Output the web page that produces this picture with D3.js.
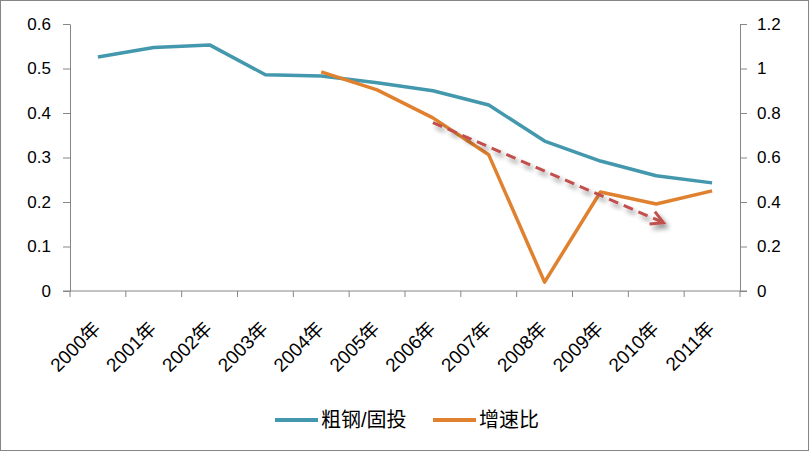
<!DOCTYPE html>
<html>
<head>
<meta charset="utf-8">
<script src="https://cdn.jsdelivr.net/npm/d3@7"></script>
<style>
  body { margin: 0; background: #fff; }
  svg { display: block; font-family: "Liberation Sans", "Noto Sans CJK SC", sans-serif; }
</style>
</head>
<body>
<div id="chart"></div>
<script>
var years = ["2000年","2001年","2002年","2003年","2004年","2005年","2006年","2007年","2008年","2009年","2010年","2011年"]
var steel_ratio = [0.526, 0.547, 0.553, 0.486, 0.483, 0.468, 0.450, 0.418, 0.337, 0.292, 0.259, 0.243]
var growth_ratio = [null, null, null, null, 0.985, 0.904, 0.778, 0.612, 0.040, 0.445, 0.391, 0.450]
var left_ticks = [0, 0.1, 0.2, 0.3, 0.4, 0.5, 0.6]
var right_ticks = [0, 0.2, 0.4, 0.6, 0.8, 1, 1.2]
var series_names = ["粗钢/固投", "增速比"]
// trend arrow, in (category index, right-axis value)
var trend_arrow = [[6.0, 0.757], [10.13, 0.307]]

var W = 809, H = 451
var margin = {top: 24, right: 69, bottom: 160, left: 70}
var width = W - margin.left - margin.right,
    height = 291 - margin.top

var blue = "#4398ae", orange = "#e0812f", axis_col = "#868686"

var svg = d3.select("#chart").append("svg")
  .attr("width", W).attr("height", H)

svg.append("rect")
  .attr("x", 0.5).attr("y", 0.5)
  .attr("width", W - 1).attr("height", H - 1)
  .attr("fill", "#fff").attr("stroke", axis_col).attr("stroke-width", 1)

var g = svg.append("g")
  .attr("transform", "translate(" + margin.left + "," + margin.top + ")")

var x = d3.scaleBand().domain(years).range([0, width])
var xi = d3.scaleLinear().domain([0, years.length]).range([0, width])
var y = d3.scaleLinear().domain([0, 0.6]).range([height, 0])
var y2 = d3.scaleLinear().domain([0, 1.2]).range([height, 0])

function style_axis(sel){
  sel.select(".domain").attr("stroke", axis_col)
  sel.selectAll(".tick line").attr("stroke", axis_col)
  sel.selectAll(".tick text").attr("fill", "#000").style("font-size", "17px")
}

// left axis
var ya = g.append("g")
  .call(d3.axisLeft(y).tickValues(left_ticks).tickSize(7).tickSizeOuter(0).tickPadding(12)
    .tickFormat(function(d){ return d3.format("")(d) }))
style_axis(ya)

// right axis
var ya2 = g.append("g")
  .attr("transform", "translate(" + width + ",0)")
  .call(d3.axisRight(y2).tickValues(right_ticks).tickSize(7).tickSizeOuter(0).tickPadding(10)
    .tickFormat(function(d){ return d3.format("")(d) }))
style_axis(ya2)

// bottom axis with ticks on category boundaries
var xa = g.append("g")
  .attr("transform", "translate(0," + height + ")")
xa.append("line")
  .attr("x1", -7).attr("x2", width + 7)
  .attr("stroke", axis_col)
xa.selectAll(".xt")
  .data(d3.range(years.length + 1))
  .enter().append("line")
  .attr("x1", function(d){ return xi(d) }).attr("x2", function(d){ return xi(d) })
  .attr("y1", 0).attr("y2", 6)
  .attr("stroke", axis_col)
xa.selectAll(".xl")
  .data(years)
  .enter().append("text")
  .attr("transform", function(d){
    return "translate(" + (x(d) + x.bandwidth() / 2 - 1) + ",34) rotate(-45)"
  })
  .attr("text-anchor", "end")
  .attr("dy", "0.35em")
  .style("font-size", "19px")
  .text(function(d){ return d })

// lines
var cx = function(i){ return x(years[i]) + x.bandwidth() / 2 }

var line1 = d3.line()
  .x(function(d, i){ return cx(i) })
  .y(function(d){ return y(d) })

var line2 = d3.line()
  .defined(function(d){ return d != null })
  .x(function(d, i){ return cx(i) })
  .y(function(d){ return y2(d) })

g.append("path")
  .datum(steel_ratio)
  .attr("d", line1)
  .attr("fill", "none").attr("stroke", blue)
  .attr("stroke-width", 3.5).attr("stroke-linejoin", "round")

g.append("path")
  .datum(growth_ratio)
  .attr("d", line2)
  .attr("fill", "none").attr("stroke", orange)
  .attr("stroke-width", 3.5).attr("stroke-linejoin", "round")

// dashed trend arrow with soft shadow
var defs = svg.append("defs")
var f = defs.append("filter").attr("id", "shadow")
  .attr("x", "-20%").attr("y", "-20%").attr("width", "140%").attr("height", "160%")
f.append("feGaussianBlur").attr("in", "SourceAlpha").attr("stdDeviation", 2.5).attr("result", "b")
f.append("feOffset").attr("in", "b").attr("dx", 3).attr("dy", 4).attr("result", "o")
f.append("feComponentTransfer").attr("in", "o").attr("result", "o2")
  .append("feFuncA").attr("type", "linear").attr("slope", 0.45)
var fm = f.append("feMerge")
fm.append("feMergeNode").attr("in", "o2")
fm.append("feMergeNode").attr("in", "SourceGraphic")

var ax = function(d){ return xi(d[0]) + x.bandwidth() / 2 - xi(0) }
var p0 = [ax(trend_arrow[0]), y2(trend_arrow[0][1])],
    p1 = [ax(trend_arrow[1]), y2(trend_arrow[1][1])]
var ang = Math.atan2(p1[1] - p0[1], p1[0] - p0[0])
var hl = 14, ha = 0.5
var arrow = g.append("g").attr("filter", "url(#shadow)")
arrow.append("line")
  .attr("x1", p0[0]).attr("y1", p0[1])
  .attr("x2", p1[0] - 3 * Math.cos(ang)).attr("y2", p1[1] - 3 * Math.sin(ang))
  .attr("stroke", "#c0504d").attr("stroke-width", 3)
  .attr("stroke-dasharray", "10,6")
arrow.append("path")
  .attr("d", "M" + (p1[0] - hl * Math.cos(ang - ha)) + "," + (p1[1] - hl * Math.sin(ang - ha)) +
    "L" + p1[0] + "," + p1[1] +
    "L" + (p1[0] - hl * Math.cos(ang + ha)) + "," + (p1[1] - hl * Math.sin(ang + ha)))
  .attr("fill", "none").attr("stroke", "#c0504d").attr("stroke-width", 3)

// legend
var legend = svg.append("g").attr("transform", "translate(275,420)")
var items = legend.selectAll(".item")
  .data(series_names)
  .enter().append("g")
  .attr("transform", function(d, i){ return "translate(" + (i * 158) + ",0)" })
items.append("line")
  .attr("x1", 0).attr("x2", 43)
  .attr("stroke", function(d, i){ return i == 0 ? blue : orange })
  .attr("stroke-width", 4)
items.append("text")
  .attr("x", 46).attr("dy", "0.36em")
  .style("font-size", "20px")
  .text(function(d){ return d })
</script>
</body>
</html>
